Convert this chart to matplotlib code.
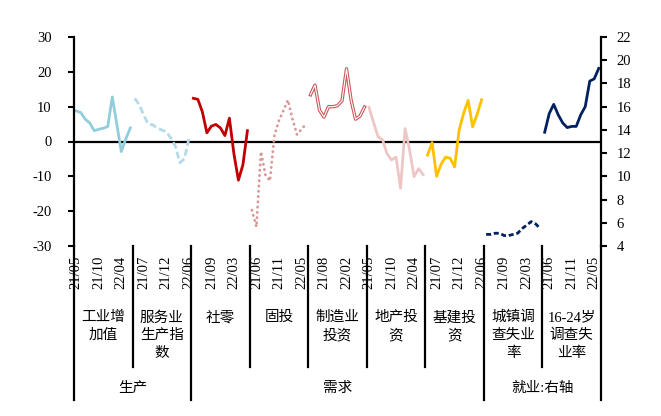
import matplotlib.pyplot as plt

plt.rcParams['font.family'] = ['Liberation Serif', 'Noto Sans CJK SC']
plt.rcParams['axes.unicode_minus'] = False

# categories: 13 months per group (no 22/01)
months = ['21/05', '21/06', '21/07', '21/08', '21/09', '21/10', '21/11', '21/12',
          '22/02', '22/03', '22/04', '22/05', '22/06']
groups = ['工业增\n加值', '服务业\n生产指\n数', '社零', '固投', '制造业\n投资',
          '地产投\n资', '基建投\n资', '城镇调\n查失业\n率', '16-24岁\n调查失\n业率']
outer = ['生产', '需求', '就业:右轴']
outer_span = [(0, 2), (2, 7), (7, 9)]

# left axis series (%)
iva = [8.8, 8.3, 6.4, 5.3, 3.1, 3.5, 3.8, 4.3, 12.8, 5.0, -2.9, 0.7, 3.9]
services = [12.4, 10.5, 7.5, 5.0, 4.8, 3.8, 3.3, 2.8, 1.0, -1.3, -6.1, -5.0, 0.8]
retail = [12.4, 12.1, 8.5, 2.5, 4.4, 4.9, 3.9, 1.7, 6.7, -3.5, -11.1, -6.7, 3.1]
fai = [-19.7, -24.5, -2.9, -9.6, -11.3, 1.8, 6.0, 8.9, 11.9, 6.5, 2.0, 3.5, 5.0]
manuf = [13.4, 16.2, 9.0, 7.0, 10.0, 10.0, 10.3, 11.7, 20.9, 12.0, 6.4, 7.3, 9.9]
estate = [9.8, 5.5, 1.4, 0.5, -3.5, -5.3, -4.5, -13.4, 3.7, -2.4, -10.1, -7.8, -9.5]
infra = [-3.9, -0.3, -10.0, -6.5, -4.5, -4.8, -7.3, 3.3, 8.1, 11.8, 4.2, 7.8, 12.0]
# right axis series (%)
unemp = [5.0, 5.0, 5.1, 5.1, 4.9, 4.9, 5.0, 5.1, 5.5, 5.8, 6.1, 5.9, 5.5]
youth = [13.8, 15.4, 16.2, 15.3, 14.6, 14.2, 14.3, 14.3, 15.3, 16.0, 18.2, 18.4, 19.3]

n = len(months)


def xs(g, vals):
    return [g * n + i + 0.5 for i in range(len(vals))]


fig = plt.figure(figsize=(6.61, 4.16), dpi=100)
ax = fig.add_axes([74 / 661, 170 / 416, 527 / 661, 209 / 416])
ax.set_xlim(0, n * len(groups))
ax.set_ylim(-30, 30)
ax.set_yticks(range(-30, 31, 10))

ax.axhline(0, color='black', lw=1.6, zorder=1)

lw = 2.0
ax.plot(xs(0, iva), iva, color='#92CDDC', lw=lw)
ax.plot(xs(1, services), services, color='#B3DCE8', lw=lw, ls=(0, (2.5, 1.2)))
ax.plot(xs(2, retail), retail, color='#C00000', lw=lw)
ax.plot(xs(3, fai), fai, color='#DA9694', lw=lw, ls=(0, (0.1, 1.8)),
        dash_capstyle='round')
ax.plot(xs(4, manuf), manuf, color='#C9585A', lw=2.4)
ax.plot(xs(4, manuf), manuf, color='white', lw=0.8)
ax.plot(xs(5, estate), estate, color='#EFC6C6', lw=lw)
ax.plot(xs(6, infra), infra, color='#FFC000', lw=lw)

ax2 = ax.twinx()
ax2.set_ylim(4, 22)
ax2.set_yticks(range(4, 23, 2))
ax2.plot(xs(7, unemp), unemp, color='#002060', lw=lw, ls=(0, (1.8, 1.0)))
ax2.plot(xs(8, youth), youth, color='#002060', lw=lw)

for a in (ax, ax2):
    for s in ('top', 'bottom'):
        a.spines[s].set_visible(False)
ax.spines['right'].set_visible(False)
ax2.spines['left'].set_visible(False)
ax.spines['left'].set_linewidth(1.6)
ax2.spines['right'].set_linewidth(1.6)

ax.tick_params(axis='y', direction='out', length=4, width=1.5, pad=12, labelsize=10.5)
ax2.tick_params(axis='y', direction='out', length=4, width=1.5, pad=7, labelsize=10.5)

# month labels every 5 categories
ticks = list(range(0, n * len(groups), 5))
ax.set_xticks([t + 0.5 for t in ticks])
ax.set_xticklabels([months[t % n] for t in ticks], rotation=90)
ax.tick_params(axis='x', length=0, pad=7, labelsize=10.5)

trans = ax.get_xaxis_transform()
for g in range(len(groups) + 1):
    bottom = -0.737 if g in (0, 2, 7, 9) else -0.579
    ax.plot([g * n, g * n], [0, bottom], transform=trans, color='black',
            lw=1.6, clip_on=False)

for g, name in enumerate(groups):
    ax.text(g * n + n / 2, -0.31, name, transform=trans, ha='center', va='top',
            fontsize=10.5, linespacing=1.45)

for name, (a, b) in zip(outer, outer_span):
    ax.text((a + b) * n / 2, -0.68, name, transform=trans, ha='center',
            va='center', fontsize=10.5)

fig.savefig('out.png', dpi=100)
